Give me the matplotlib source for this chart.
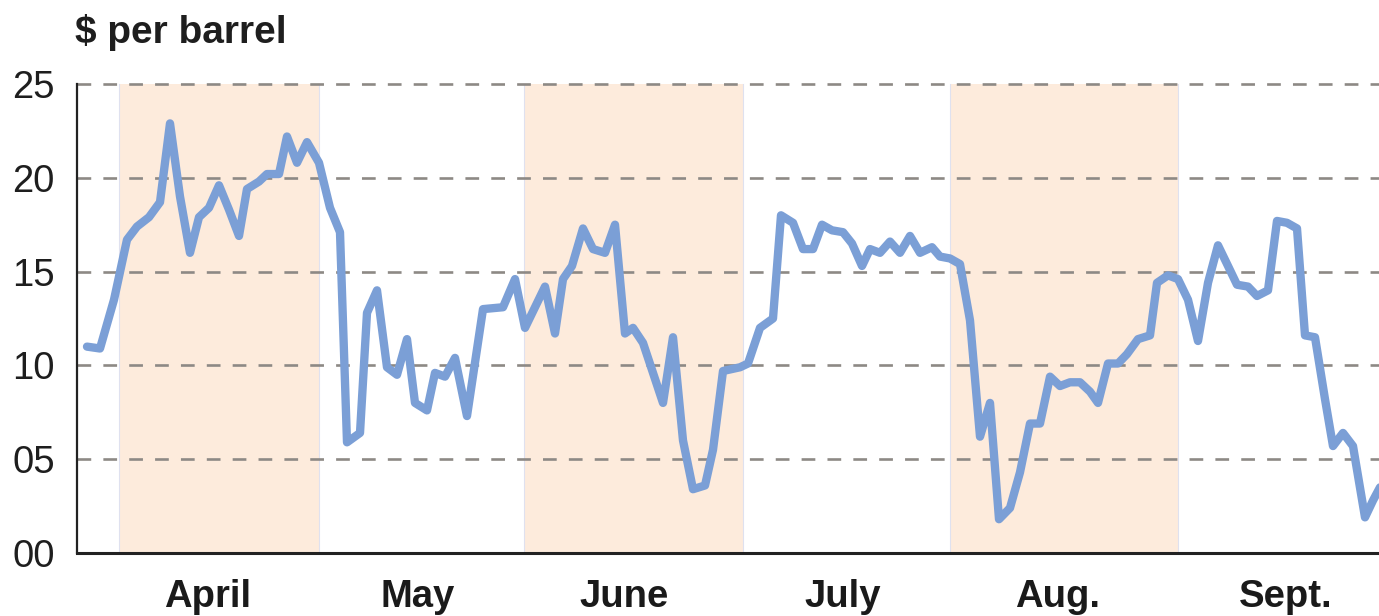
import matplotlib
matplotlib.use("Agg")
import matplotlib.pyplot as plt
import matplotlib.transforms as mtransforms

# ---- data (x in trading-day units from the left edge of the plot) ----
days = [1.0, 2.3, 3.7, 5.0, 6.0, 7.2, 8.3, 9.3, 10.3, 11.3, 12.2, 13.2, 14.2, 15.2, 16.2,
        17.0, 18.2, 19.0, 20.2, 21.0, 22.0, 23.0, 24.2, 25.3, 26.3, 27.0, 28.3, 29.0, 30.0,
        31.0, 32.0, 33.0, 33.8, 35.0, 35.8, 36.8, 37.8, 39.0, 40.6, 42.6, 43.8, 44.8, 46.8,
        47.8, 48.6, 49.5, 50.6, 51.6, 52.8, 53.8, 54.8, 55.6, 56.6, 58.6, 59.6, 60.6, 61.6,
        62.8, 63.6, 64.6, 66.3, 67.1, 68.3, 69.6, 70.4, 71.6, 72.6, 73.6, 74.5, 75.5, 76.6,
        77.5, 78.5, 79.3, 80.3, 81.3, 82.3, 83.3, 84.3, 85.5, 86.3, 87.3, 88.3, 89.3, 90.3,
        91.3, 92.2, 93.3, 94.3, 95.3, 96.3, 97.3, 98.3, 99.3, 100.3, 101.3, 102.1, 103.1,
        104.1, 105.0, 106.1, 107.3, 108.0, 109.1, 110.1, 111.1, 112.1, 113.1, 114.1, 115.1,
        116.0, 117.1, 118.0, 119.1, 120.0, 121.0, 122.0, 122.8, 123.8, 124.8, 125.6, 126.6,
        127.6, 128.8, 129.6, 130.4]
prices = [11.0, 10.9, 13.5, 16.7, 17.4, 17.9, 18.7, 22.9, 19.0, 16.0, 17.9, 18.4, 19.6, 18.3,
          16.9, 19.4, 19.8, 20.2, 20.2, 22.2, 20.8, 21.9, 20.8, 18.4, 17.1, 5.9, 6.4, 12.8,
          14.0, 9.9, 9.5, 11.4, 8.0, 7.6, 9.6, 9.4, 10.4, 7.3, 13.0, 13.1, 14.6, 12.0, 14.2,
          11.7, 14.6, 15.3, 17.3, 16.2, 16.0, 17.5, 11.7, 12.0, 11.2, 8.0, 11.5, 6.0, 3.4,
          3.6, 5.5, 9.7, 9.9, 10.1, 12.0, 12.5, 18.0, 17.6, 16.2, 16.2, 17.5, 17.2, 17.1,
          16.5, 15.3, 16.2, 16.0, 16.6, 16.0, 16.9, 16.0, 16.3, 15.8, 15.7, 15.4, 12.4, 6.2,
          8.0, 1.8, 2.4, 4.3, 6.9, 6.9, 9.4, 8.9, 9.1, 9.1, 8.6, 8.0, 10.1, 10.1, 10.6, 11.4,
          11.6, 14.4, 14.8, 14.6, 13.5, 11.3, 14.4, 16.4, 15.3, 14.3, 14.2, 13.7, 14.0, 17.7,
          17.6, 17.3, 11.6, 11.5, 8.2, 5.7, 6.4, 5.7, 1.9, 2.8, 3.6]

month_names = ["April", "May", "June", "July", "Aug.", "Sept."]
month_starts = [4.2, 24.2, 44.7, 66.6, 87.3, 110.1]
month_ends = [24.2, 44.7, 66.6, 87.3, 110.1, 131.0]
month_label_pos = [13.1, 34.1, 54.7, 76.6, 98.1, 120.9]
shaded = [True, False, True, False, True, False]

ytick_vals = [0, 5, 10, 15, 20, 25]
ytick_labels = ["00", "05", "10", "15", "20", "25"]
unit_label = "$ per barrel"

# ---- figure ----
W, H = 1379, 616
fig = plt.figure(figsize=(W / 100, H / 100), dpi=100)
ax = fig.add_axes([77 / W, 63 / H, 1 - 77 / W, (553 - 74.6) / H])
ax.set_xlim(0, 130.2)
ax.set_ylim(0, 25.5)

band_color = "#fdebdc"
for s, e, sh in zip(month_starts, month_ends, shaded):
    if sh:
        ax.fill_between([s, e], 0, 25, color=band_color, lw=0, zorder=0)
for s in month_starts:
    ax.plot([s, s], [0, 25], color="#dfe1ef", lw=0.8, zorder=0.5)

for v in ytick_vals[1:]:
    ax.axhline(v, color="#8d8985", lw=1.9, linestyle=(0, (5.2, 4.6)), zorder=1,
               clip_on=False)

ax.plot(days, prices, color="#7b9fd6", lw=6.0, solid_joinstyle="round",
        solid_capstyle="round", zorder=3)

for sp in ["top", "right"]:
    ax.spines[sp].set_visible(False)
ax.spines["left"].set_bounds(0, 25)
ax.spines["left"].set_linewidth(1.6)
ax.spines["left"].set_color("#222222")
ax.spines["bottom"].set_linewidth(2.2)
ax.spines["bottom"].set_color("#222222")

ax.set_yticks(ytick_vals)
ax.set_yticklabels(ytick_labels, fontsize=27.5, family="Liberation Sans", color="#1e1e1e")
ax.tick_params(axis="y", length=0, pad=16)
ax.set_xticks([])

trans = mtransforms.blended_transform_factory(ax.transData, fig.transFigure)
for name, xp in zip(month_names, month_label_pos):
    ax.text(xp, (616 - 607) / H, name, transform=trans, ha="center", va="baseline",
            fontsize=27.5, fontweight="bold", family="Liberation Sans", color="#1a1a1a")

fig.text(75 / W, 1 - 43 / H, unit_label, ha="left", va="baseline", fontsize=28,
         fontweight="bold", family="Liberation Sans", color="#1e1e1e")

fig.savefig("out.png", dpi=100)
